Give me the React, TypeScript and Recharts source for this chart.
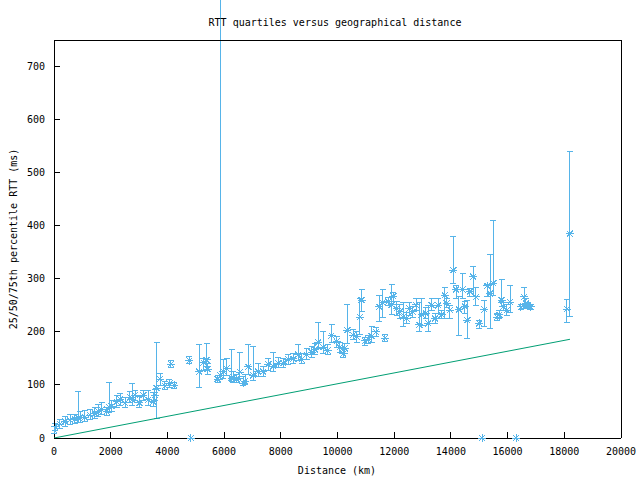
import React from 'react';
import { ScatterChart, Scatter, XAxis, YAxis, ErrorBar } from 'recharts';

// Distance (km) of each measured bin
const distances = [
  0, 40, 210, 390, 565, 740, 860, 920, 1090, 1270, 1445, 1560, 1680, 1860, 1950,
  2035, 2210, 2330, 2505, 2680, 2760, 2860, 3010, 3150, 3330, 3500, 3560, 3620,
  3740, 3915, 4070, 4125, 4245, 4775, 5125, 5270, 5385, 5420, 5770, 5870, 5975,
  6090, 6265, 6325, 6440, 6560, 6680, 6740, 6855, 7030, 7205, 7380, 7560, 7735,
  7910, 8090, 8265, 8440, 8615, 8735, 8910, 9090, 9205, 9320, 9500, 9650, 9790,
  9970, 10085, 10205, 10260, 10345, 10555, 10675, 10790, 10850, 10970, 11085,
  11205, 11360, 11475, 11590, 11675, 11790, 11910, 11970, 12085, 12200, 12320,
  12440, 12530, 12650, 12770, 12885, 12970, 13120, 13200, 13320, 13440, 13555,
  13675, 13790, 13850, 13965, 14085, 14180, 14285, 14415, 14495, 14580, 14670,
  14790, 14885, 15000, 15180, 15285, 15380, 15495, 15635, 15705, 15790, 15850,
  15965, 16085, 16470, 16580, 16645, 16730, 16810, 18095, 18200,
];
// 50th percentile RTT (ms)
const medians = [
  15, 21, 26, 31, 34, 36, 38, 39, 39, 43, 46, 50, 54, 50, 58,
  60, 68, 73, 66, 77, 72, 81, 66, 81, 72, 68, 81, 94,
  111, 98, 103, 139, 99, 146, 125, 142, 147, 130, 111, 118, 125,
  131, 113, 114, 111, 124, 103, 107, 134, 118, 125, 125, 139, 135,
  141, 141, 148, 149, 157, 148, 157, 162, 167, 180, 171, 165, 193,
  182, 171, 159, 169, 203, 194, 191, 228, 260, 183, 186,
  192, 200, 247, 255, 188, 257, 251, 267, 244, 238, 228,
  225, 244, 238, 251, 213, 232, 235, 216, 250, 225, 250,
  232, 269, 254, 241, 316, 280, 242, 280, 248, 222, 276,
  304, 266, 216, 242, 287, 272, 292, 228, 232, 260, 248,
  241, 256, 247, 266, 254, 250, 247, 243, 385,
];
// 25th percentile RTT (ms)
const q25 = [
  8, 14, 18, 22, 26, 28, 30, 30, 31, 34, 37, 40, 44, 42, 48,
  50, 58, 62, 58, 66, 62, 70, 58, 70, 62, 60, 70, 36,
  98, 92, 96, 133, 94, 140, 95, 128, 135, 120, 104, 110, 112,
  118, 106, 105, 104, 112, 98, 100, 120, 108, 115, 115, 128, 125,
  132, 132, 138, 140, 146, 140, 148, 152, 158, 168, 160, 158, 180,
  170, 162, 152, 160, 178, 185, 180, 195, 238, 175, 178,
  180, 192, 219, 228, 182, 250, 232, 258, 230, 226, 210,
  215, 230, 228, 240, 200, 212, 225, 200, 240, 215, 235,
  225, 226, 245, 226, 291, 263, 194, 263, 235, 188, 266,
  266, 250, 206, 211, 266, 207, 269, 222, 225, 247, 240,
  230, 236, 243, 244, 246, 244, 242, 218, 229,
];
// 75th percentile RTT (ms)
const q75 = [
  22, 28, 34, 40, 44, 45, 87, 50, 52, 54, 58, 64, 66, 58, 105,
  70, 80, 84, 76, 88, 103, 90, 78, 90, 90, 86, 92, 180,
  122, 106, 110, 146, 104, 153, 176, 150, 178, 140, 118, 900, 148,
  150, 166, 125, 120, 161, 115, 120, 176, 172, 140, 135, 150, 161,
  152, 150, 158, 160, 176, 160, 168, 172, 178, 218, 200, 176, 214,
  192, 180, 168, 178, 252, 205, 200, 262, 279, 190, 194,
  210, 208, 269, 280, 195, 265, 289, 275, 258, 252, 255,
  236, 255, 248, 262, 255, 262, 245, 250, 262, 235, 262,
  240, 284, 262, 250, 379, 287, 266, 310, 258, 260, 281,
  323, 284, 222, 260, 290, 346, 410, 235, 240, 299, 256,
  252, 288, 252, 284, 262, 256, 252, 261, 540,
];
// bins whose median RTT is 0 ms
const zeroDistances = [4830, 15100, 16300];
const zeroMedians = [0, 0, 0];
// reference bound line (speed of light in fibre)
const boundDistances = [0, 18200];
const boundRtt = [0, 186];

const xTicks = [0, 2000, 4000, 6000, 8000, 10000, 12000, 14000, 16000, 18000, 20000];
const yTicks = [0, 100, 200, 300, 400, 500, 600, 700];

const BLUE = '#56B4E9';
const GREEN = '#009E73';
const FONT = "'DejaVu Sans Mono', monospace";

const points = distances.map((d, i) => ({
  x: d,
  y: medians[i],
  err: [medians[i] - q25[i], q75[i] - medians[i]],
}));
const zeroPoints = zeroDistances.map((d, i) => ({ x: d, y: zeroMedians[i] }));
const boundData = boundDistances.map((d, i) => ({ x: d, y: boundRtt[i] }));

const Star = (props: any) => {
  const { cx, cy } = props;
  if (cx == null || cy == null) return <g />;
  const r = 4;
  const d = 3;
  return (
    <path
      d={`M${cx - r},${cy}H${cx + r}M${cx},${cy - r}V${cy + r}M${cx - d},${cy - d}L${cx + d},${cy + d}M${cx - d},${cy + d}L${cx + d},${cy - d}`}
      stroke={BLUE}
      strokeWidth={1}
      fill="none"
    />
  );
};

const NoShape = () => <g />;

export default function App() {
  const tickStyle = { fill: '#000', fontSize: 10, fontFamily: FONT };
  return (
    <div
      style={{
        position: 'absolute',
        left: 0,
        top: 0,
        width: 640,
        height: 480,
        background: '#fff',
        shapeRendering: 'crispEdges',
      }}
    >
      <ScatterChart width={640} height={480} margin={{ top: 39, right: 18, bottom: 0, left: 0 }}>
        <XAxis
          xAxisId="b"
          type="number"
          dataKey="x"
          domain={[0, 20000]}
          ticks={xTicks}
          interval={0}
          orientation="bottom"
          height={42}
          tickSize={-6}
          tickMargin={16}
          stroke="#000"
          tick={tickStyle}
          allowDataOverflow
        />
        <XAxis
          xAxisId="t"
          type="number"
          dataKey="x"
          orientation="top"
          domain={[0, 20000]}
          ticks={xTicks}
          interval={0}
          height={1}
          tickSize={-6}
          tick={false}
          stroke="#000"
          allowDataOverflow
        />
        <YAxis
          yAxisId="l"
          type="number"
          dataKey="y"
          domain={[0, 750]}
          ticks={yTicks}
          interval={0}
          width={54}
          tickSize={-6}
          tickMargin={15}
          stroke="#000"
          tick={tickStyle}
          allowDataOverflow
        />
        <YAxis
          yAxisId="r"
          type="number"
          dataKey="y"
          orientation="right"
          domain={[0, 750]}
          ticks={yTicks}
          interval={0}
          width={1}
          tickSize={-6}
          tick={false}
          stroke="#000"
        />
        <Scatter
          xAxisId="b"
          yAxisId="l"
          data={boundData}
          line={{ stroke: GREEN, strokeWidth: 1, shapeRendering: 'auto' }}
          shape={<NoShape />}
          isAnimationActive={false}
        />
        <Scatter xAxisId="b" yAxisId="l" data={points} shape={<Star />} fill={BLUE} isAnimationActive={false}>
          <ErrorBar dataKey="err" direction="y" width={3} stroke={BLUE} strokeWidth={1} isAnimationActive={false} />
        </Scatter>
        <Scatter xAxisId="t" yAxisId="r" data={zeroPoints} shape={<Star />} fill={BLUE} isAnimationActive={false} />
      </ScatterChart>
      <svg
        width={640}
        height={480}
        style={{ position: 'absolute', left: 0, top: 0, pointerEvents: 'none' }}
        fontFamily={FONT}
        fontSize={10}
      >
        <text x={335} y={26} textAnchor="middle" fill="#000">
          RTT quartiles versus geographical distance
        </text>
        <text x={337} y={474} textAnchor="middle" fill="#000">
          Distance (km)
        </text>
        <text x={17} y={239} textAnchor="middle" fill="#000" transform="rotate(-90 17 239)">
          25/50/75th percentile RTT (ms)
        </text>
      </svg>
    </div>
  );
}
